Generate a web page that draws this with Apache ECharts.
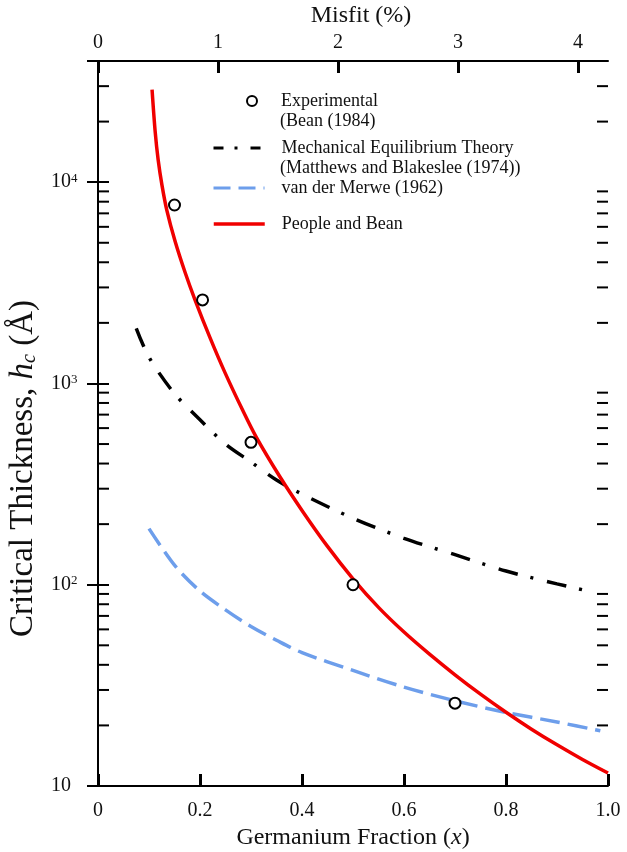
<!DOCTYPE html>
<html><head><meta charset="utf-8">
<script src="https://cdn.jsdelivr.net/npm/echarts/dist/echarts.min.js"></script>
<style>html,body{margin:0;padding:0;background:#fff}#c{width:627px;height:852px}</style>
</head><body><div id="c"></div>
<script>
// Experimental (Bean 1984)
const expX = [0.15, 0.205, 0.30, 0.50, 0.70];
const expY = [7700, 2600, 510, 100, 25.8];
// People and Bean
const pbX = [0.106, 0.112, 0.118, 0.1255, 0.135, 0.151, 0.171, 0.19, 0.22, 0.249, 0.284, 0.31, 0.357, 0.4, 0.45, 0.5, 0.55, 0.6, 0.65, 0.7, 0.75, 0.8, 0.85, 0.9, 0.95, 1.0];
const pbY = [28840, 17950, 12880, 9640, 7244, 5105, 3548, 2612, 1679, 1132, 733, 543, 343, 234, 155, 107, 77.2, 58.2, 45.2, 35.7, 28.6, 23.25, 19.16, 16.02, 13.55, 11.6];
// Mechanical Equilibrium Theory (Matthews and Blakeslee)
const mbX = [0.075, 0.1, 0.15, 0.2, 0.25, 0.3, 0.35, 0.4, 0.5, 0.6, 0.7, 0.8, 0.9, 0.97];
const mbY = [1880, 1350, 890, 660, 500, 407, 331, 282, 214, 170, 141, 117, 101, 92];
// van der Merwe (1962)
const vmX = [0.1, 0.15, 0.2, 0.25, 0.3, 0.35, 0.4, 0.5, 0.6, 0.7, 0.8, 0.9, 0.985];
const vmY = [190, 125, 93, 75, 62, 53, 46, 37.5, 31, 26.5, 23.2, 20.8, 18.8];
// axes
const xTicks = [0, 0.2, 0.4, 0.6, 0.8, 1.0];
const misfitTicks = [0, 1, 2, 3, 4];
const yMinorTicks = [20,30,40,50,60,70,80,90,200,300,400,500,600,700,800,900,2000,3000,4000,5000,6000,7000,8000,9000,20000,30000];

const pair = (xs, ys) => xs.map((x, i) => [x, ys[i]]);
const FONT = 'Liberation Serif';
const LFS = 18;

const chart = echarts.init(document.getElementById('c'), null, {renderer: 'canvas'});
const lineLegend = (name, top, lineStyle) => ({
  data: [name], left: 212, top: top, padding: 0, orient: 'vertical',
  itemWidth: 51, itemHeight: 10, selectedMode: false,
  itemStyle: {opacity: 0, color: 'transparent', borderWidth: 0},
  lineStyle: lineStyle,
  textStyle: {fontFamily: FONT, fontSize: LFS, color: '#111', padding: [0, 0, 0, 12]}
});
chart.setOption({
  animation: false,
  backgroundColor: '#fff',
  grid: {left: 98, right: 19, top: 61, bottom: 66, outerBoundsMode: 'none', containLabel: false},
  legend: [
    {data: ['Experimental'], left: 246, top: 92, padding: 0, itemWidth: 10, itemHeight: 10, selectedMode: false,
     textStyle: {fontFamily: FONT, fontSize: LFS, color: '#111', padding: [0, 0, 0, 19]}},
    lineLegend('Mechanical Equilibrium Theory', 139, {width: 3, type: [10, 11, 3, 13]}),
    lineLegend('van der Merwe (1962)', 179, {width: 3, type: [17, 8]}),
    lineLegend('People and Bean', 215, {width: 3.5})
  ],
  graphic: [
    {type: 'text', left: 280, top: 112, style: {text: '(Bean (1984)', font: LFS + 'px "Liberation Serif"', fill: '#111'}},
    {type: 'text', left: 280, top: 159, style: {text: '(Matthews and Blakeslee (1974))', font: LFS + 'px "Liberation Serif"', fill: '#111'}}
  ],
  xAxis: [
    {type: 'value', min: 0, max: 1, interval: 0.2, position: 'bottom',
     axisLine: {lineStyle: {color: '#000', width: 2}},
     axisTick: {inside: true, length: 12, lineStyle: {color: '#000', width: 3}},
     splitLine: {show: false},
     axisLabel: {fontFamily: FONT, fontSize: 20, color: '#111', margin: 15,
       formatter: v => v === 0 ? '0' : v.toFixed(1)},
     name: 'Germanium Fraction ({i|x})', nameLocation: 'middle', nameGap: 35,
     nameTextStyle: {fontFamily: FONT, fontSize: 24, color: '#111',
       rich: {i: {fontFamily: FONT, fontSize: 24, fontStyle: 'italic', color: '#111'}}}},
    {type: 'value', min: 0, max: 4.25, interval: 1, position: 'top',
     axisLine: {lineStyle: {color: '#000', width: 2}},
     axisTick: {inside: true, length: 12, lineStyle: {color: '#000', width: 3}},
     splitLine: {show: false},
     axisLabel: {fontFamily: FONT, fontSize: 20, color: '#111', margin: 8, showMaxLabel: false},
     name: 'Misfit (%)', nameLocation: 'middle', nameGap: 32,
     nameTextStyle: {fontFamily: FONT, fontSize: 24, color: '#111', padding: [0, 0, 0, 16]}}
  ],
  yAxis: [
    {type: 'log', logBase: 10, min: 10, max: 40000, position: 'left',
     axisLine: {show: true, lineStyle: {color: '#000', width: 2}},
     axisTick: {show: true, inside: true, length: 11, lineStyle: {color: '#000', width: 2}},
     splitLine: {show: false},
     axisLabel: {fontFamily: FONT, fontSize: 20, color: '#111', margin: 47, align: 'left',
       showMaxLabel: false,
       formatter: v => { const e = Math.round(Math.log10(v)); return e === 1 ? '10' : '10{sup|' + e + '}'; },
       rich: {sup: {fontFamily: FONT, fontSize: 13, color: '#111', verticalAlign: 'top', padding: [0, 0, 8, 0]}}},
     name: 'Critical Thickness, {i|h}{sub|c} (Å)', nameLocation: 'middle', nameGap: 53, nameRotate: 90,
     nameTextStyle: {fontFamily: FONT, fontSize: 33, color: '#111', padding: [0, 90, 0, 0],
       rich: {i: {fontFamily: FONT, fontSize: 33, fontStyle: 'italic', color: '#111'},
              sub: {fontFamily: FONT, fontSize: 20, fontStyle: 'italic', color: '#111', verticalAlign: 'bottom', padding: [12, 0, 0, 0]}}}},
    {type: 'log', logBase: 10, min: 10, max: 40000, position: 'right',
     axisLine: {show: true, lineStyle: {color: '#000', width: 2}},
     axisTick: {show: true, inside: true, length: 11, lineStyle: {color: '#000', width: 2}},
     axisLabel: {show: false}, splitLine: {show: false}}
  ],
  series: [
    {name: 'Mechanical Equilibrium Theory', type: 'line', xAxisIndex: 0, yAxisIndex: 0,
     data: pair(mbX, mbY), smooth: 0.3, symbol: 'none', showSymbol: false,
     lineStyle: {color: '#000', width: 3.5, type: [20, 13, 3, 14]}, itemStyle: {color: '#000'}, z: 3},
    {name: 'van der Merwe (1962)', type: 'line', xAxisIndex: 0, yAxisIndex: 0,
     data: pair(vmX, vmY), smooth: 0.3, symbol: 'none', showSymbol: false,
     lineStyle: {color: '#6d9eeb', width: 3.5, type: [20, 8]}, itemStyle: {color: '#6d9eeb'}, z: 3},
    {name: 'People and Bean', type: 'line', xAxisIndex: 0, yAxisIndex: 0,
     data: pair(pbX, pbY), smooth: 0.3, symbol: 'none', showSymbol: false,
     lineStyle: {color: '#f00000', width: 3.5}, itemStyle: {color: '#f00000'}, z: 4},
    {name: 'Experimental', type: 'scatter', xAxisIndex: 0, yAxisIndex: 0,
     data: pair(expX, expY), symbol: 'circle', symbolSize: 11,
     itemStyle: {color: '#fff', borderColor: '#000', borderWidth: 2, opacity: 1}, z: 5},
    {name: 'minorTicks', type: 'custom', xAxisIndex: 0, yAxisIndex: 0, silent: true, clip: false,
     data: yMinorTicks.map(v => [0, v]),
     renderItem: (params, api) => {
       const v = api.value(1);
       const pl = api.coord([0, v]);
       const pr = api.coord([1, v]);
       return {type: 'group', children: [
         {type: 'line', shape: {x1: pl[0], y1: pl[1], x2: pl[0] + 11, y2: pl[1]}, style: {stroke: '#000', lineWidth: 2}},
         {type: 'line', shape: {x1: pr[0] - 11, y1: pr[1], x2: pr[0], y2: pr[1]}, style: {stroke: '#000', lineWidth: 2}}
       ]};
     }, z: 2}
  ]
});
</script>
</body></html>
